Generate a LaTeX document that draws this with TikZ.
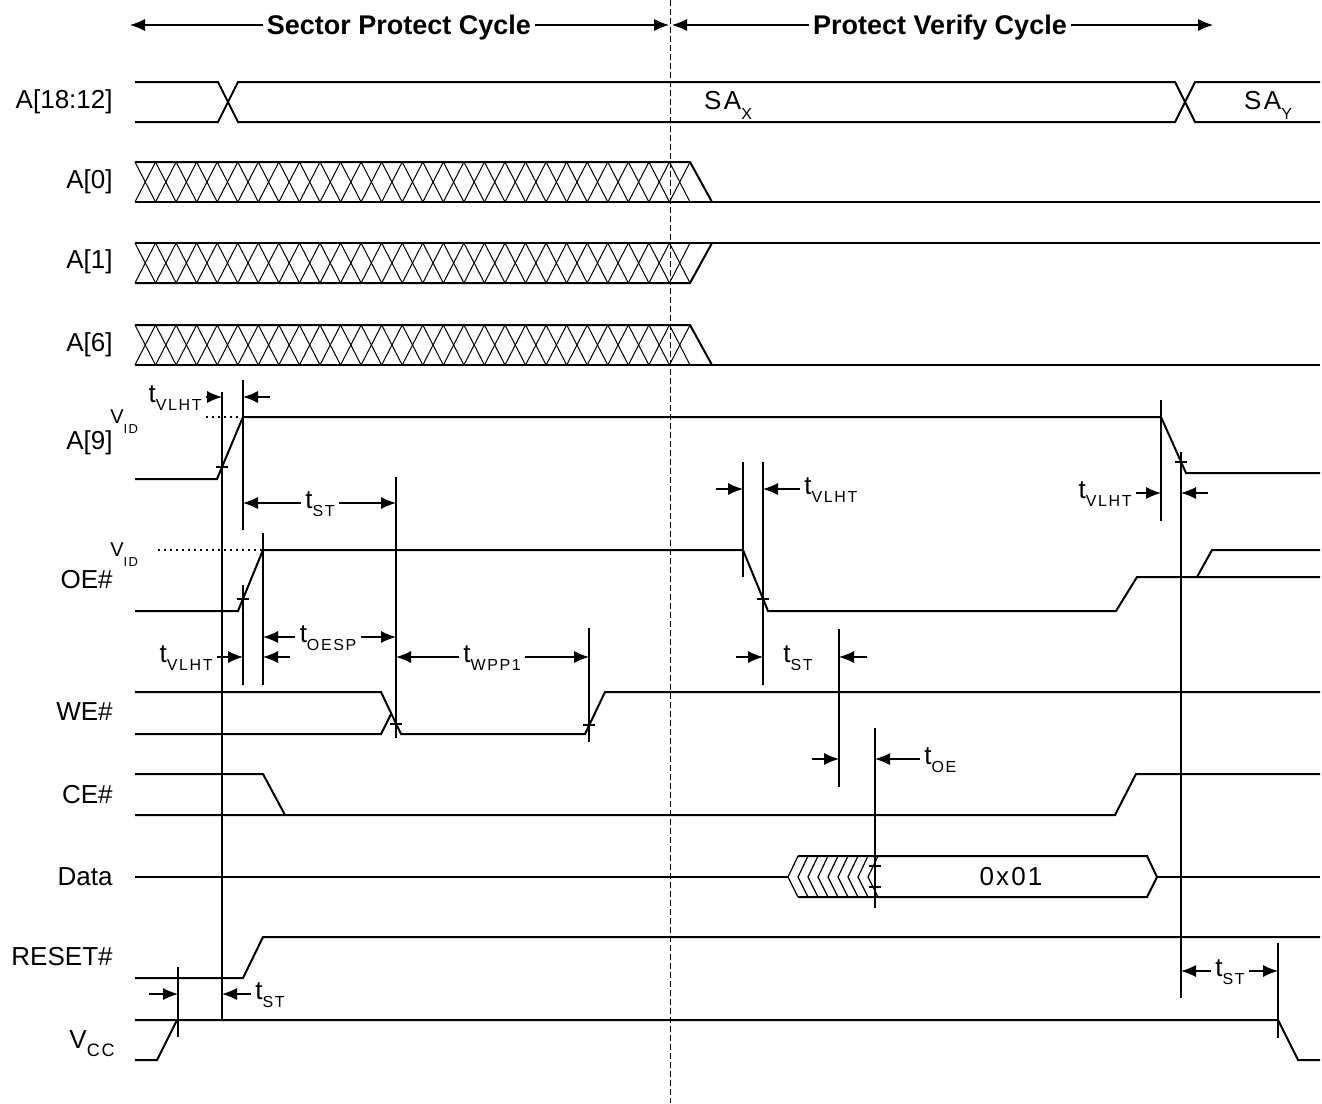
\documentclass[tikz,border=0pt]{standalone}
\usepackage{fontspec}
\setmainfont{Liberation Sans}
\newfontfamily\subfnt{Liberation Sans}[LetterSpace=10]
\usetikzlibrary{arrows.meta}
\tikzset{
    sig/.style={line width=1pt},
    vline/.style={line width=0.6pt},
    dim/.style={line width=0.6pt, -{Latex[length=7.5pt,width=6pt]}},
    vdots/.style={line width=0.6pt, dash pattern=on 0.8pt off 2.2pt},
    siglbl/.style={font=\fontsize{13}{15}\selectfont, anchor=east, inner sep=0pt},
    tlbl/.style={font=\fontsize{13}{15}\selectfont, inner xsep=2pt, inner ysep=0pt},
    hdr/.style={font=\bfseries\fontsize{13.5}{16}\selectfont, inner xsep=2pt, inner ysep=0pt,
        text height=9.7pt, text depth=0pt},
}
\newcommand{\tsub}[1]{t\raisebox{-4pt}{\subfnt\fontsize{8}{8}\selectfont #1}}
\newcommand{\vid}{\fontsize{10}{10}\selectfont V\raisebox{-5pt}{\subfnt\fontsize{6.5}{6.5}\selectfont ID}}
\newcommand{\hatchbus}[3]{
    \foreach \k in {0,...,26} {
        \draw[line width=0.5pt] ({#1+\k*#2}, #3) -- ({#1+(\k+1)*#2}, #3+40);
        \draw[line width=0.5pt] ({#1+\k*#2}, #3+40) -- ({#1+(\k+1)*#2}, #3);
    }
}
\newcommand{\tick}[2]{
    \draw[vline] (#1-6, #2) -- (#1+6, #2);
}
\begin{document}
\begin{tikzpicture}[x=0.5pt, y=-0.5pt]
    \useasboundingbox (0,0) rectangle (1322,1103);

    % cycles
    \draw[line width=0.5pt, dash pattern=on 3pt off 1.5pt] (670,0) -- (670,1103);
    \node[hdr] (spc) at (399,25) {Sector Protect Cycle};
    \node[hdr] (pvc) at (940,25) {Protect Verify Cycle};
    \draw[dim] (spc.west) -- (130,25);
    \draw[dim] (spc.east) -- (669,25);
    \draw[dim] (pvc.west) -- (672,25);
    \draw[dim] (pvc.east) -- (1213,25);

    % signal names
    \node[siglbl] (lA1812) at (113,102) {A[18:12]};
    \node[siglbl] (lA0) at (113,182) {A[0]};
    \node[siglbl] (lA1) at (113,262) {A[1]};
    \node[siglbl] (lA6) at (113,345) {A[6]};
    \node[siglbl] (lA9) at (113,443) {A[9]};
    \node[siglbl] (lOE) at (113,580) {OE\#};
    \node[siglbl] (lWE) at (113,712) {WE\#};
    \node[siglbl] (lCE) at (113,795) {CE\#};
    \node[siglbl] (lData) at (113,877) {Data};
    \node[siglbl] (lRESET) at (113,957) {RESET\#};
    \node[siglbl, anchor=base east] (lVCC) at (115,1048) {V\raisebox{-4pt}{\subfnt\fontsize{9}{9}\selectfont CC}};
    \node[inner sep=0pt, anchor=base west] (vidA) at (110,423) {\vid};
    \node[inner sep=0pt, anchor=base west] (vidOE) at (110,556) {\vid};

    % A[18:12]
    \draw[sig] (135,82) -- (218,82) -- (238,122) -- (1175,122) -- (1195,82) -- (1320,82);
    \draw[sig] (135,122) -- (218,122) -- (238,82) -- (1175,82) -- (1195,122) -- (1320,122);
    \node[font=\fontsize{13}{15}\selectfont\addfontfeature{LetterSpace=10}] (sax) at (728,105) {SA\raisebox{-5pt}{\subfnt\fontsize{8}{8}\selectfont X}};
    \node[font=\fontsize{13}{15}\selectfont\addfontfeature{LetterSpace=10}] (say) at (1268,105) {SA\raisebox{-5pt}{\subfnt\fontsize{8}{8}\selectfont Y}};

    % A[0], A[1], A[6]
    \hatchbus{135}{20.556}{162}
    \hatchbus{135}{20.556}{243}
    \hatchbus{135}{20.556}{325}
    \draw[sig] (135,162) -- (690,162) -- (712,202);
    \draw[sig] (135,202) -- (1320,202);
    \draw[sig] (135,243) -- (1320,243);
    \draw[sig] (135,283) -- (690,283) -- (712,243);
    \draw[sig] (135,325) -- (690,325) -- (712,365);
    \draw[sig] (135,365) -- (1320,365);

    % A[9]
    \draw[sig] (135,479) -- (217,479) -- (243,417) -- (1161,417) -- (1186,473) -- (1320,473);
    \draw[vdots] (206,417) -- (243,417);
    \tick{222}{467}
    \tick{1181}{462}

    % OE#
    \draw[sig] (135,611) -- (238,611) -- (263,550) -- (743,550) -- (768,611) -- (1116,611) -- (1137,577) -- (1320,577);
    \draw[sig] (1197,577) -- (1212,550) -- (1320,550);
    \draw[vdots] (158,550) -- (263,550);
    \tick{243}{599}
    \tick{763}{599}

    % WE#
    \draw[sig] (135,692) -- (381,692) -- (401,734) -- (585,734) -- (605,692) -- (1320,692);
    \draw[sig] (135,734) -- (381,734) -- (391,714);
    \tick{396}{724}
    \tick{589}{725}

    % CE#
    \draw[sig] (135,774) -- (263,774) -- (285,815);
    \draw[sig] (135,815) -- (1115,815) -- (1136,774) -- (1320,774);

    % Data
    \draw[sig] (135,877) -- (788,877);
    \foreach \k in {0,...,8} {
        \draw[line width=0.6pt] (798+10*\k,856) -- (788+10*\k,877) -- (798+10*\k,897);
    }
    \draw[sig] (798,856) -- (1147,856) -- (1157,877) -- (1147,897) -- (798,897);
    \draw[sig] (1157,877) -- (1320,877);
    \node[font=\fontsize{13}{15}\selectfont\addfontfeature{LetterSpace=8}] (dval) at (1011,877) {0x01};
    \tick{875}{866}
    \tick{875}{887}

    % RESET#, Vcc
    \draw[sig] (135,978) -- (243,978) -- (263,937) -- (1320,937);
    \draw[sig] (135,1060) -- (157,1060) -- (177,1020);
    \draw[sig] (135,1020) -- (1278,1020) -- (1298,1060) -- (1320,1060);

    % timing lines
    \draw[vline] (222,392) -- (222,1020);
    \draw[vline] (243,380) -- (243,530);
    \draw[vline] (243,585) -- (243,685);
    \draw[vline] (263,533) -- (263,685);
    \draw[vline] (396,477) -- (396,738);
    \draw[vline] (589,628) -- (589,742);
    \draw[vline] (743,462) -- (743,577);
    \draw[vline] (763,462) -- (763,685);
    \draw[vline] (839,629) -- (839,787);
    \draw[vline] (875,728) -- (875,908);
    \draw[vline] (1161,400) -- (1161,521);
    \draw[vline] (1181,452) -- (1181,998);
    \draw[vline] (178,967) -- (178,1037);
    \draw[vline] (1278,943) -- (1278,1038);

    % timing parameters
    \node[tlbl, anchor=mid east] (tVLHTa) at (206,397) {\tsub{VLHT}};
    \draw[dim] (tVLHTa.mid east) -- (222,397);
    \draw[dim] (270,397) -- (243,397);

    \node[tlbl, anchor=mid] (tSTa) at (320,503) {\tsub{ST}};
    \draw[dim] (tSTa.mid west) -- (243,503);
    \draw[dim] (tSTa.mid east) -- (396,503);

    \node[tlbl, anchor=mid east] (tVLHTb) at (217,657) {\tsub{VLHT}};
    \draw[dim] (tVLHTb.mid east) -- (243,657);
    \draw[dim] (290,657) -- (263,657);

    \node[tlbl, anchor=mid] (tOESP) at (328,637) {\tsub{OESP}};
    \draw[dim] (tOESP.mid west) -- (263,637);
    \draw[dim] (tOESP.mid east) -- (396,637);

    \node[tlbl, anchor=mid] (tWPP) at (492,657) {\tsub{WPP1}};
    \draw[dim] (tWPP.mid west) -- (396,657);
    \draw[dim] (tWPP.mid east) -- (589,657);

    \draw[dim] (716,489) -- (743,489);
    \node[tlbl, anchor=mid west] (tVLHTc) at (800,489) {\tsub{VLHT}};
    \draw[dim] (tVLHTc.mid west) -- (763,489);

    \node[tlbl, anchor=mid] (tSTb) at (798,657) {\tsub{ST}};
    \draw[dim] (736,657) -- (763,657);
    \draw[dim] (867,657) -- (839,657);

    \draw[dim] (812,759) -- (839,759);
    \node[tlbl, anchor=mid west] (tOE) at (920,759) {\tsub{OE}};
    \draw[dim] (tOE.mid west) -- (875,759);

    \node[tlbl, anchor=mid east] (tVLHTd) at (1136,493) {\tsub{VLHT}};
    \draw[dim] (tVLHTd.mid east) -- (1161,493);
    \draw[dim] (1208,493) -- (1181,493);

    \draw[dim] (149,994) -- (178,994);
    \node[tlbl, anchor=mid west] (tSTc) at (251,994) {\tsub{ST}};
    \draw[dim] (tSTc.mid west) -- (222,994);

    \node[tlbl, anchor=mid] (tSTd) at (1230,971) {\tsub{ST}};
    \draw[dim] (tSTd.mid west) -- (1181,971);
    \draw[dim] (tSTd.mid east) -- (1278,971);
\end{tikzpicture}
\end{document}
